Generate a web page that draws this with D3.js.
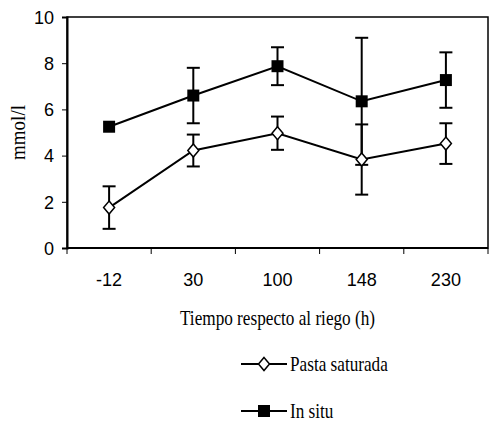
<!DOCTYPE html>
<html>
<head>
<meta charset="utf-8">
<script src="https://cdn.jsdelivr.net/npm/d3@7"></script>
<style>
  html, body { margin: 0; padding: 0; background: #fff; }
  text { fill: #000; }
  .num { font-family: "Liberation Sans", Arial, sans-serif; font-size: 19px; }
  .ser { font-family: "Liberation Serif", "Times New Roman", serif; font-size: 20px; }
</style>
</head>
<body>
<div id="chart"></div>
<script>
const WIDTH = 489, HEIGHT = 421;
const M = { top: 17, right: 1, bottom: 173, left: 67 };
const innerW = WIDTH - M.left - M.right;
const innerH = HEIGHT - M.top - M.bottom;

// data
const times = ["-12", "30", "100", "148", "230"];
const pastaMean = [1.75, 4.22, 4.97, 3.83, 4.52];
const pastaErr  = [0.92, 0.69, 0.72, 1.52, 0.88];
const insituMean = [5.25, 6.6, 7.87, 6.35, 7.27];
const insituErr  = [0, 1.2, 0.82, 2.75, 1.2];
const yTicks = [0, 2, 4, 6, 8, 10];

const NARROW = 0.95, SERIF_SQ = 0.86;

const svg = d3.select("#chart").append("svg")
  .attr("width", WIDTH).attr("height", HEIGHT);
const g = svg.append("g").attr("transform", `translate(${M.left},${M.top})`);

const x = d3.scaleBand().domain(times).range([0, innerW]).padding(0);
const y = d3.scaleLinear().domain([0, 10]).range([innerH, 0]);
const cx = d => x(d) + x.bandwidth() / 2;

// frame
g.append("rect").attr("width", innerW).attr("height", innerH)
  .attr("fill", "none").attr("stroke", "#000").attr("stroke-width", 1.5);

// y axis
const yAx = g.append("g").call(d3.axisLeft(y).tickValues(yTicks).tickSize(5).tickFormat(""));
yAx.select(".domain").attr("stroke-width", 2);
g.selectAll(".ylb").data(yTicks).join("text")
  .attr("class", "ylb num")
  .attr("transform", d => `translate(-13,${y(d)}) scale(${NARROW},1)`)
  .attr("dy", "0.36em").attr("text-anchor", "end").text(d => d);

// x axis: ticks on band boundaries, labels centred
const xAx = g.append("g").attr("transform", `translate(0,${innerH})`);
xAx.append("line").attr("x1", 0).attr("x2", innerW).attr("stroke", "#000").attr("stroke-width", 2);
xAx.selectAll(".tk").data(times.concat(["end"])).join("line")
  .attr("class", "tk")
  .attr("x1", d => d === "end" ? innerW : x(d)).attr("x2", d => d === "end" ? innerW : x(d))
  .attr("y1", 0).attr("y2", 6).attr("stroke", "#000").attr("stroke-width", 1);
xAx.selectAll(".lb").data(times).join("text")
  .attr("class", "lb num")
  .attr("transform", d => `translate(${cx(d)},38) scale(${NARROW},1)`)
  .attr("text-anchor", "middle").text(d => d);

// titles
svg.append("text").attr("class", "ser").attr("text-anchor", "middle")
  .attr("transform", `translate(${M.left + innerW / 2},325) scale(${SERIF_SQ},1)`)
  .text("Tiempo respecto al riego (h)");
svg.append("text").attr("class", "ser").attr("text-anchor", "middle")
  .attr("transform", `translate(25,${M.top + innerH / 2}) rotate(-90) scale(0.95,1)`).text("mmol/l");

const line = d3.line().x((d, i) => cx(times[i])).y(d => y(d));

function drawSeries(means, errs, marker) {
  const s = g.append("g");
  s.append("path").datum(means).attr("fill", "none").attr("stroke", "#000")
    .attr("stroke-width", 2).attr("d", line);
  means.forEach((d, i) => {
    const e = errs[i];
    if (e <= 0) return;
    const eb = s.append("g").attr("transform", `translate(${cx(times[i])},0)`);
    eb.append("line").attr("y1", y(d - e)).attr("y2", y(d + e));
    eb.append("line").attr("x1", -6.5).attr("x2", 6.5).attr("y1", y(d + e)).attr("y2", y(d + e));
    eb.append("line").attr("x1", -6.5).attr("x2", 6.5).attr("y1", y(d - e)).attr("y2", y(d - e));
    eb.selectAll("line").attr("stroke", "#000").attr("stroke-width", 2);
  });
  s.selectAll(".mk").data(means).join("path").attr("class", "mk")
    .attr("transform", (d, i) => `translate(${cx(times[i])},${y(d)})`)
    .call(marker);
}

const diamond = sel => sel.attr("d", "M0,-6.5L5.5,0L0,6.5L-5.5,0Z")
  .attr("fill", "#fff").attr("stroke", "#000").attr("stroke-width", 1.5);
const square = sel => sel.attr("d", "M-6,-6H6V6H-6Z").attr("fill", "#000");

drawSeries(insituMean, insituErr, square);
drawSeries(pastaMean, pastaErr, diamond);

// legend
const legend = [
  { name: "Pasta saturada", marker: diamond, y: 364 },
  { name: "In situ", marker: square, y: 411 }
];
const lg = svg.selectAll(".lg").data(legend).join("g").attr("class", "lg")
  .attr("transform", d => `translate(241,${d.y})`);
lg.append("line").attr("x1", 0).attr("x2", 46).attr("stroke", "#000").attr("stroke-width", 2);
lg.append("path").attr("transform", "translate(23,0)").each(function (d) { d3.select(this).call(d.marker); });
lg.append("text").attr("class", "ser")
  .attr("transform", `translate(49,7) scale(${SERIF_SQ},1)`).text(d => d.name);
</script>
</body>
</html>
